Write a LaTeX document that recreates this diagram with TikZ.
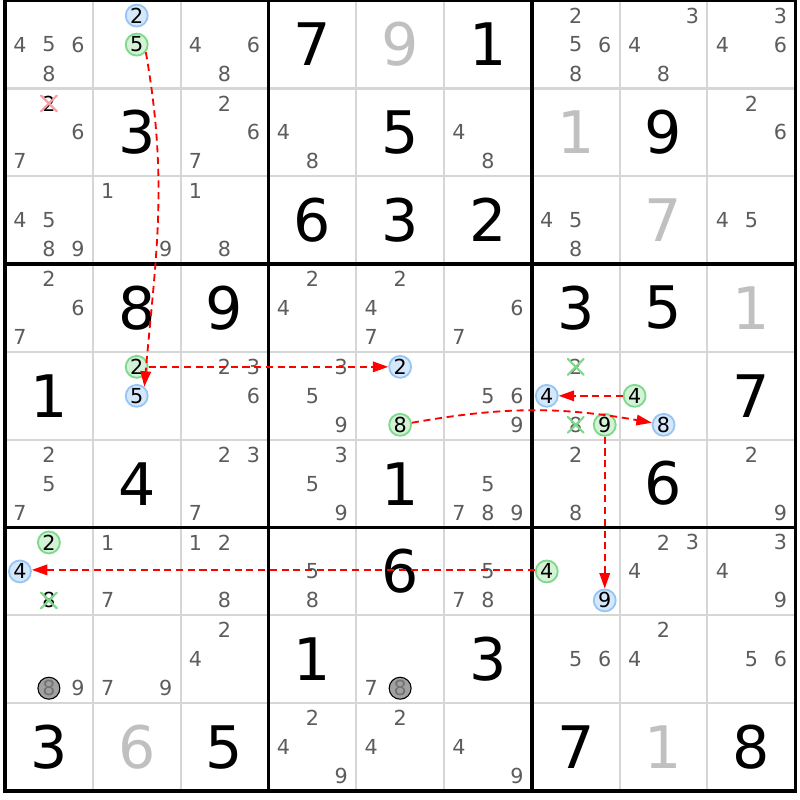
\documentclass[tikz,border=0pt]{standalone}
\usepackage{fontspec}
\setmainfont{DejaVu Sans}
\usepackage{tikz}
\usetikzlibrary{arrows.meta}

\definecolor{candgrey}{HTML}{5C5C5C}
\definecolor{solvedgrey}{HTML}{C0C0C0}
\definecolor{gridgrey}{HTML}{D6D6D6}
\definecolor{onfill}{HTML}{D3F2D6}
\definecolor{ondraw}{HTML}{7FD98D}
\definecolor{offfill}{HTML}{D4E7FB}
\definecolor{offdraw}{HTML}{97C6F4}
\definecolor{pinkx}{HTML}{F4A0A8}
\definecolor{linkred}{HTML}{FF0000}

\tikzset{
  given/.style={font=\fontsize{19}{19}\selectfont, inner sep=0pt},
  solved/.style={given, text=solvedgrey},
  cand/.style={font=\fontsize{6.7}{7}\selectfont, inner sep=0pt, text=candgrey},
  struck/.style={cand, text=black},
  oncand/.style={cand, text=black, circle, draw=ondraw, fill=onfill, line width=0.6pt, minimum size=0.25cm},
  offcand/.style={cand, text=black, circle, draw=offdraw, fill=offfill, line width=0.6pt, minimum size=0.25cm},
  pincand/.style={cand, text=black!55, circle, draw=black, fill=black!37, line width=0.35pt, minimum size=0.25cm},
  thingrid/.style={gridgrey, line width=0.65pt},
  boxline/.style={black, line width=1.1pt},
  xmark/.style={line width=0.7pt, line cap=round},
  link/.style={draw=linkred, dash pattern=on 2.3pt off 1.5pt, line width=0.6pt, -{Triangle[length=5pt,width=3.4pt,fill=linkred]}},
}

\begin{document}
\begin{tikzpicture}
\useasboundingbox (-0.057,0.008) rectangle (9.054,-9.103);
% grid
\foreach \i in {1,2,4,5,7,8} {
  \draw[thingrid] (\i,0) -- (\i,-9);
  \draw[thingrid] (0,-\i) -- (9,-\i);
}
\foreach \i in {3,6} {
  \draw[boxline] (\i,0) -- (\i,-9);
  \draw[boxline] (0,-\i) -- (9,-\i);
}
\draw[boxline] (0,0) rectangle (9,-9);

% givens and solved cells
\foreach \r/\c/\d in {1/4/7,1/6/1,2/2/3,2/5/5,2/8/9,3/4/6,3/5/3,3/6/2,4/2/8,4/3/9,4/7/3,4/8/5,
    5/1/1,5/9/7,6/2/4,6/5/1,6/8/6,7/5/6,8/4/1,8/6/3,9/1/3,9/3/5,9/7/7,9/9/8}
  \node[given] (g\r\c) at (\c-0.5,-\r+0.5) {\d};
\foreach \r/\c/\d in {1/5/9,2/7/1,3/8/7,4/9/1,9/2/6,9/8/1}
  \node[solved] (g\r\c) at (\c-0.5,-\r+0.5) {\d};

% candidates
\foreach \r/\c/\d in {1/1/4,1/1/5,1/1/6,1/1/8,1/3/4,1/3/6,1/3/8,1/7/2,1/7/5,1/7/6,1/7/8,
    1/8/3,1/8/4,1/8/8,1/9/3,1/9/4,1/9/6,
    2/1/6,2/1/7,2/3/2,2/3/6,2/3/7,2/4/4,2/4/8,2/6/4,2/6/8,2/9/2,2/9/6,
    3/1/4,3/1/5,3/1/8,3/1/9,3/2/1,3/2/9,3/3/1,3/3/8,3/7/4,3/7/5,3/7/8,3/9/4,3/9/5,
    4/1/2,4/1/6,4/1/7,4/4/2,4/4/4,4/5/2,4/5/4,4/5/7,4/6/6,4/6/7,
    5/3/2,5/3/3,5/3/6,5/4/3,5/4/5,5/4/9,5/6/5,5/6/6,5/6/9,
    6/1/2,6/1/5,6/1/7,6/3/2,6/3/3,6/3/7,6/4/3,6/4/5,6/4/9,6/6/5,6/6/7,6/6/8,6/6/9,
    6/7/2,6/7/8,6/9/2,6/9/9,
    7/2/1,7/2/7,7/3/1,7/3/2,7/3/8,7/4/5,7/4/8,7/6/5,7/6/7,7/6/8,7/8/2,7/8/3,7/8/4,
    7/9/3,7/9/4,7/9/9,
    8/1/9,8/2/7,8/2/9,8/3/2,8/3/4,8/5/7,8/7/5,8/7/6,8/8/2,8/8/4,8/9/5,8/9/6,
    9/4/2,9/4/4,9/4/9,9/5/2,9/5/4,9/6/4,9/6/9} {
  \pgfmathsetmacro\px{\c-0.5+(mod(\d-1,3)-1)*0.33}
  \pgfmathsetmacro\py{-\r+0.5-(floor((\d-1)/3)-1)*0.33}
  \node[cand] (k\r\c\d) at (\px,\py) {\d};
}

% marked candidates
\foreach \r/\c/\d/\s in {1/2/2/offcand,1/2/5/oncand,5/2/2/oncand,5/2/5/offcand,
    5/5/2/offcand,5/5/8/oncand,5/7/4/offcand,5/7/9/oncand,5/8/4/oncand,5/8/8/offcand,
    7/1/2/oncand,7/1/4/offcand,7/7/4/oncand,7/7/9/offcand,8/1/8/pincand,8/5/8/pincand,
    2/1/2/struck,5/7/2/cand,5/7/8/cand,7/1/8/struck} {
  \pgfmathsetmacro\px{\c-0.5+(mod(\d-1,3)-1)*0.33}
  \pgfmathsetmacro\py{-\r+0.5-(floor((\d-1)/3)-1)*0.33}
  \node[\s] (k\r\c\d) at (\px,\py) {\d};
}

% eliminations
\foreach \n/\col in {k212/pinkx,k572/ondraw,k578/ondraw,k718/ondraw}
  \draw[xmark,\col] (\n.center) +(-0.09,-0.09) -- +(0.09,0.09)
    (\n.center) +(-0.09,0.09) -- +(0.09,-0.09);

% chain
\draw[link] (k125.-40) to[out=-80,in=85] (k525.50);
\draw[link] (k522) -- (k552);
\draw[link] (k558) to[bend left=10] (k588);
\draw[link] (k584) -- (k574);
\draw[link] (k579) -- (k779);
\draw[link] ([yshift=0.5pt]k774.west) -- ([yshift=0.5pt]k714.east);
\end{tikzpicture}
\end{document}
